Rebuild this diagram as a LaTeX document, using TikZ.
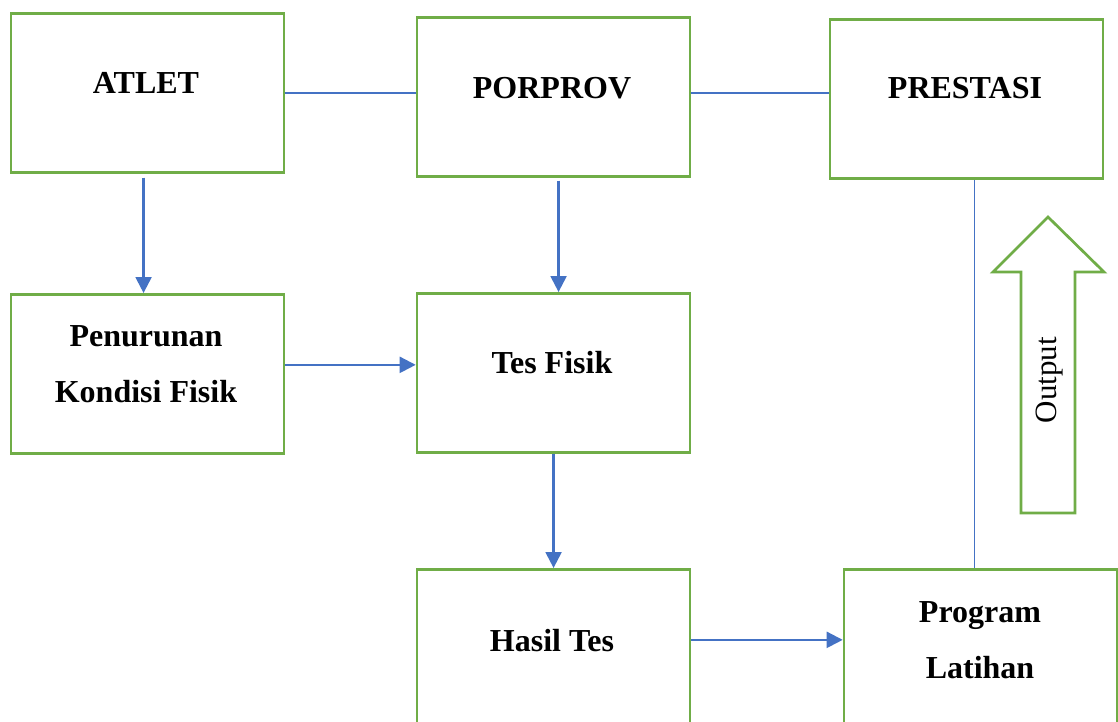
\documentclass[tikz,border=0pt]{standalone}
\usepackage{fontspec}
\setmainfont{Liberation Serif}
\usetikzlibrary{arrows.meta}
\definecolor{boxgreen}{HTML}{70AD47}
\definecolor{linkblue}{HTML}{4472C4}
\tikzset{
  box/.style={draw=boxgreen, line width=2.7pt, minimum width=273pt, minimum height=159pt, inner sep=0pt, anchor=north west},
  lbl/.style={font=\bfseries\fontsize{32}{56}\selectfont, align=center, inner sep=0pt},
  link/.style={draw=linkblue, line width=1.4pt},
  flow/.style={draw=linkblue, line width=2.2pt, -{Triangle[length=16pt,width=16pt]}},
}
\begin{document}
\begin{tikzpicture}[x=1pt,y=-1pt]
\useasboundingbox (0,0) rectangle (1118,722);
\clip (0,0) rectangle (1118,722);
\fill[white] (0,0) rectangle (1118,722);
% boxes
\node[box] (atlet) at (9.7,12) {};
\node[box] (porprov) at (415.7,16) {};
\node[box] (prestasi) at (828.7,18) {};
\node[box] (penurunan) at (9.7,293) {};
\node[box] (tesfisik) at (415.7,292) {};
\node[box] (hasil) at (415.7,568) {};
\node[box] (program) at (842.7,568) {};
% labels
\node[lbl] (atletT) at (146,83) {ATLET};
\node[lbl] (porprovT) at (552,88) {PORPROV};
\node[lbl] (prestasiT) at (965,88) {PRESTASI};
\node[lbl] (penurunanT) at (146,364) {Penurunan\\Kondisi Fisik};
\node[lbl] (tesfisikT) at (552,363) {Tes Fisik};
\node[lbl] (hasilT) at (552,641) {Hasil Tes};
\node[lbl] (programT) at (980,640) {Program\\Latihan};
% connectors
\draw[link] (atlet.east) -- (atlet.east -| porprov.west);
\draw[link] (porprov.east |- atlet.east) -- (prestasi.west |- atlet.east);
\draw[link] ([xshift=8pt]prestasi.south) -- ([xshift=8pt]prestasi.south |- program.north);
\draw[flow] ([xshift=-4pt,yshift=-4pt]atlet.south) -- ([xshift=-4pt]atlet.south |- penurunan.north);
\draw[flow] ([xshift=5pt,yshift=-3pt]porprov.south) -- ([xshift=5pt]porprov.south |- tesfisik.north);
\draw[flow] ([yshift=9pt]penurunan.east) -- ([yshift=9pt]penurunan.east -| tesfisik.west);
\draw[flow] (tesfisik.south) -- (tesfisik.south |- hasil.north);
\draw[flow] ([yshift=9pt]hasil.east) -- ([yshift=9pt]hasil.east -| program.west);
% output block arrow
\draw[boxgreen, line width=2.7pt, fill=white] (1021,513) -- (1021,272) -- (993,272) -- (1048,217) -- (1104,272) -- (1075,272) -- (1075,513) -- cycle;
\node[rotate=90, font=\fontsize{31}{36}\selectfont, inner sep=0pt] (outputT) at (1050,380) {Output};
\end{tikzpicture}
\end{document}
